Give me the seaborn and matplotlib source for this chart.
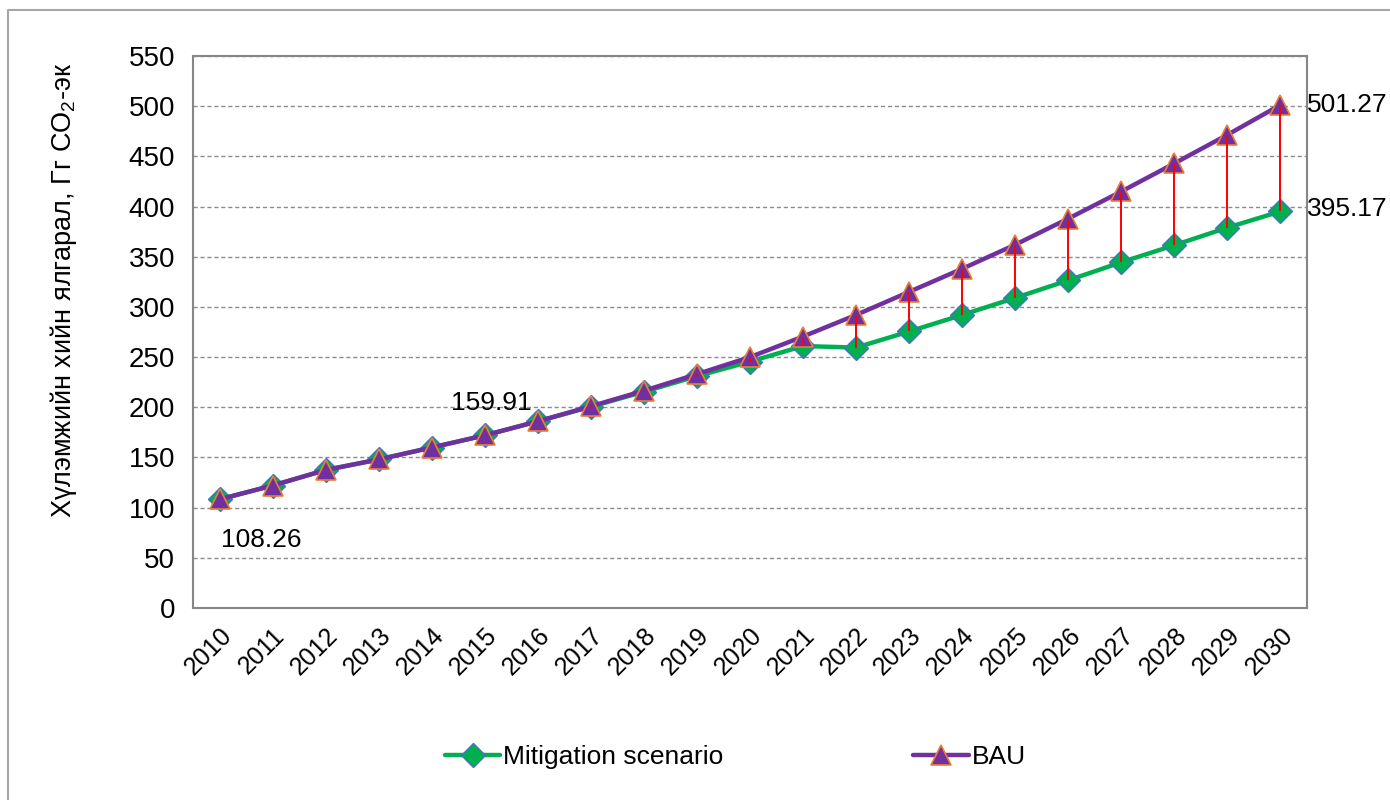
import matplotlib
matplotlib.use("Agg")
import matplotlib.pyplot as plt
from matplotlib.lines import Line2D
import numpy as np
import pandas as pd
import seaborn as sns

# Emission projections, Gg CO2-eq
years = [str(y) for y in range(2010, 2031)]
bau = [108.26, 122.0, 137.5, 148.0, 159.91, 172.0, 186.0, 201.0, 216.5, 233.0,
       250.0, 270.5, 292.0, 315.0, 338.0, 362.0, 388.0, 415.0, 443.0, 471.5, 501.27]
mitigation = [108.26, 122.0, 137.5, 148.0, 159.91, 172.0, 186.0, 200.5, 215.5, 231.0,
              245.5, 261.0, 259.5, 275.5, 292.0, 309.0, 326.5, 344.5, 361.5, 379.0, 395.17]
series_names = ["Mitigation scenario", "BAU"]
y_ticks = list(range(0, 551, 50))

sns.set_theme(style="white")
plt.rcParams["font.family"] = ["Liberation Sans", "DejaVu Sans"]
plt.rcParams["mathtext.fontset"] = "custom"
plt.rcParams["mathtext.rm"] = "Liberation Sans"
plt.rcParams["text.color"] = "black"
plt.rcParams["axes.labelcolor"] = "black"
plt.rcParams["xtick.color"] = "black"
plt.rcParams["ytick.color"] = "black"

fig = plt.figure(figsize=(13.9, 8.0), dpi=100)
ax = fig.add_axes([193 / 1390, 1 - 608 / 800, 1114 / 1390, 552 / 800])

pos = np.arange(len(years))
df_mit = pd.DataFrame({"x": pos, "value": mitigation})
df_bau = pd.DataFrame({"x": pos, "value": bau})

mit_style = dict(color="#00B050", lw=3.2, marker="D", markersize=12,
                 markerfacecolor="#00B050", markeredgecolor="#4472C4",
                 markeredgewidth=1.0)
bau_style = dict(color="#7030A0", lw=3.2, marker="^", markersize=15,
                 markerfacecolor="#7030A0", markeredgecolor="#ED7D31",
                 markeredgewidth=1.2)

sns.lineplot(data=df_mit, x="x", y="value", ax=ax, zorder=3, **mit_style)
sns.lineplot(data=df_bau, x="x", y="value", ax=ax, zorder=4, **bau_style)

# high-low lines between the two scenarios
ax.vlines(pos, mitigation, bau, colors="#FF0000", lw=1.4, zorder=5)

ax.set_xlim(-0.5, len(years) - 0.5)
ax.set_ylim(0, 550)
ax.set_yticks(y_ticks)
ax.set_yticklabels([str(t) for t in y_ticks], fontsize=20, color="black")
ax.set_xticks(pos)
ax.set_xticklabels(years, fontsize=18, rotation=45, ha="right", va="top",
                   rotation_mode="anchor", color="black")
ax.tick_params(axis="y", direction="out", length=7, width=1.2, color="#868686", pad=6)
ax.tick_params(axis="x", length=0, pad=11)

ax.yaxis.grid(True, linestyle=(0, (3, 2)), color="#8C8C8C", lw=1.0)
ax.set_axisbelow(True)
for side in ["left", "bottom", "right", "top"]:
    ax.spines[side].set_visible(True)
    ax.spines[side].set_color("#868686")
    ax.spines[side].set_linewidth(1.5)

ax.set_xlabel("")
ax.set_ylabel("Хүлэмжийн хийн ялгарал, Гг CO$_\\mathregular{2}$-эк", fontsize=19.5,
              color="black")
ax.yaxis.set_label_coords(-0.102, 0.576)

# value labels
label_kw = dict(textcoords="offset points", fontsize=19, color="black",
                annotation_clip=False)
ax.annotate("108.26", xy=(0, bau[0]), xytext=(30, -29.5), ha="center", va="center", **label_kw)
ax.annotate("159.91", xy=(4, bau[4]), xytext=(43, 32.4), ha="center", va="center", **label_kw)
ax.annotate("501.27", xy=(20, bau[20]), xytext=(19.4, 0), ha="left", va="center", **label_kw)
ax.annotate("395.17", xy=(20, mitigation[20]), xytext=(19.4, 1.4), ha="left", va="center",
            **label_kw)

handles = [Line2D([], [], **mit_style), Line2D([], [], **bau_style)]
leg = fig.legend(handles, series_names, loc="center", bbox_to_anchor=(0.529, 1 - 757 / 800),
                 ncol=2, frameon=False, fontsize=19, handlelength=2.1, handletextpad=0.1,
                 columnspacing=7.2)
for t in leg.get_texts():
    t.set_color("black")

# chart area border
fig.add_artist(Line2D([8 / 1390, 8 / 1390, 1.0], [0.0, 1 - 10 / 800, 1 - 10 / 800],
                      transform=fig.transFigure, color="#A6A6A6", lw=1.5))

fig.savefig("out.png", dpi=100)
